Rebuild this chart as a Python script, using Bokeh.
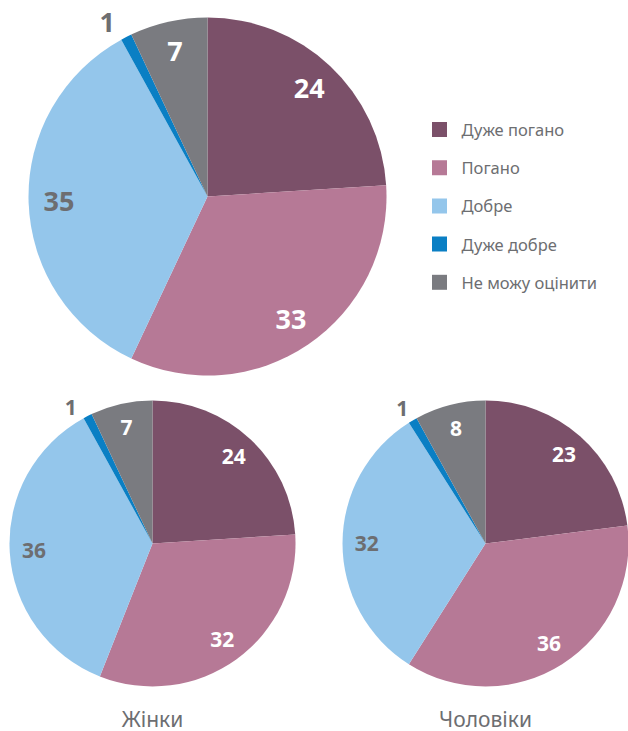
import math
from bokeh.plotting import figure
from bokeh.models import Range1d
from bokeh.core.properties import value
from bokeh.embed import file_html
from bokeh.resources import INLINE

categories = ["Дуже погано", "Погано", "Добре", "Дуже добре", "Не можу оцінити"]
colors = ["#7b5069", "#b67996", "#94c6eb", "#0a7fc4", "#7a7b80"]
total_values = [24, 33, 35, 1, 7]
women_values = [24, 32, 36, 1, 7]
men_values = [23, 36, 32, 1, 8]
sub_titles = ["Жінки", "Чоловіки"]

W, H = 628, 731
GREY = "#6d6e71"
FONT = "Noto Sans"

p = figure(width=W, height=H, output_backend="svg", toolbar_location=None,
           x_range=Range1d(0, W), y_range=Range1d(0, H),
           x_axis_type=None, y_axis_type=None, min_border=0)
p.grid.visible = False
p.outline_line_color = None
p.background_fill_color = "white"

label_white = [True, True, False, None, True]  # None -> outside label


def draw_pie(cx, cy, r, vals, fsize, out_f, out_shift_deg):
    tot = float(sum(vals))
    cum = 0.0
    starts, ends, cols = [], [], []
    lx, ly, lt, lc = [], [], [], []
    for i, v in enumerate(vals):
        a0 = math.pi / 2 - 2 * math.pi * cum / tot
        a1 = math.pi / 2 - 2 * math.pi * (cum + v) / tot
        starts.append(a0)
        ends.append(a1)
        cols.append(colors[i])
        mid = (a0 + a1) / 2
        if label_white[i] is None:
            f = out_f
            mid += math.radians(out_shift_deg)
            c = GREY
        else:
            f = 0.83
            c = "white" if label_white[i] else GREY
        lx.append(cx + f * r * math.cos(mid))
        ly.append(cy + f * r * math.sin(mid))
        lt.append(str(v))
        lc.append(c)
        cum += v
    p.wedge(x=[cx] * len(vals), y=[cy] * len(vals), radius=r,
            start_angle=starts, end_angle=ends, direction="clock",
            fill_color=cols, line_color=None)
    p.text(x=lx, y=ly, text=lt, text_color=lc, text_font=value(FONT),
           text_font_style="bold", text_font_size=fsize,
           text_align="center", text_baseline="middle")


# main pie
draw_pie(207, 535, 179, total_values, "27px", 1.12, 3)
# bottom pies
draw_pie(152, 188, 143, women_values, "21px", 1.11, 4)
draw_pie(485, 188, 143, men_values, "21px", 1.11, 1)

# subtitles
p.text(x=[152, 485], y=[13, 13], text=sub_titles, text_color=GREY,
       text_font=value(FONT), text_font_size="21px",
       text_align="center", text_baseline="middle")

# legend
ly0 = 731 - 129
leg_y = [ly0 - 38.2 * i for i in range(len(categories))]
p.rect(x=[439] * len(categories), y=leg_y, width=15, height=15,
       fill_color=colors, line_color=None)
p.text(x=[461] * len(categories), y=leg_y, text=categories, text_color=GREY,
       text_font=value(FONT), text_font_size="16.5px",
       text_align="left", text_baseline="middle")

open("out.html", "w").write(file_html(p, INLINE))
